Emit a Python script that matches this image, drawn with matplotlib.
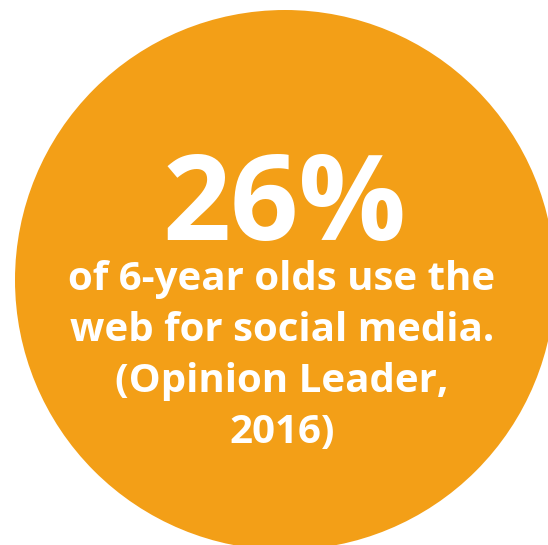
import matplotlib.pyplot as plt
from matplotlib.patches import Circle

# Inhalt
stat_value = "26%"
caption_lines = ["of 6-year olds use the",
                 "web for social media.",
                 "(Opinion Leader,",
                 "2016)"]

W, H = 548, 545
fig = plt.figure(figsize=(W/100, H/100), dpi=100)
ax = fig.add_axes([0, 0, 1, 1])
ax.set_xlim(0, W)
ax.set_ylim(H, 0)
ax.axis("off")

# Kreis
ax.add_patch(Circle((285, 280), 270, color="#F39F17", lw=0))

# Zahl
ax.text(284, 240, stat_value, ha="center", va="baseline", color="white",
        fontsize=86, fontweight="bold", family="Open Sans")

# Text darunter
y0, dy = 290, 51
for i, line in enumerate(caption_lines):
    ax.text(282, y0 + i*dy, line, ha="center", va="baseline", color="white",
            fontsize=29, fontweight="bold", family="Open Sans")

fig.savefig("out.png", dpi=100)
